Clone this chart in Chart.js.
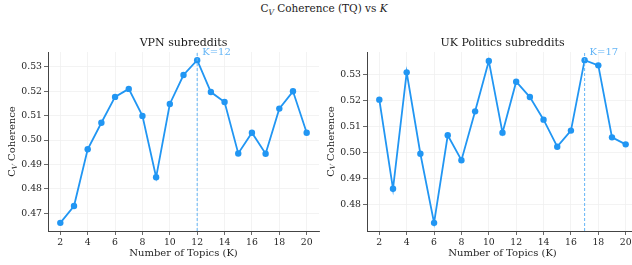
<!DOCTYPE html>
<html>
<head>
<meta charset="utf-8">
<script src="https://cdn.jsdelivr.net/npm/chart.js@4/dist/chart.umd.min.js"></script>
<style>
html,body{margin:0;padding:0;width:632px;height:265px;overflow:hidden;background:#fff;}
#sup{position:absolute;left:0;width:648px;top:2px;text-align:center;font-family:'DejaVu Serif';font-size:10.5px;color:#222;}
#sup sub{font-size:7.5px;font-style:italic;}
.wrap{position:absolute;top:0;height:265px;width:330px;}
</style>
</head>
<body>
<div id="sup">C<sub>V</sub> Coherence (TQ) vs <i>K</i></div>
<div class="wrap" style="left:0px"><canvas id="c1" width="330" height="265"></canvas></div>
<div class="wrap" style="left:316px"><canvas id="c2" width="330" height="265"></canvas></div>
<script>
const topics = [2,3,4,5,6,7,8,9,10,11,12,13,14,15,16,17,18,19,20];
const vpnCoherence = [0.4660,0.4729,0.4962,0.5071,0.5177,0.5210,0.5099,0.4847,0.5148,0.5267,0.5328,0.5197,0.5156,0.4945,0.5030,0.4944,0.5129,0.5200,0.5030];
const ukCoherence = [0.5205,0.4862,0.5310,0.4997,0.4731,0.5068,0.4972,0.5160,0.5354,0.5078,0.5274,0.5215,0.5128,0.5024,0.5086,0.5357,0.5337,0.5060,0.5033];
const xTickLabels = [2,4,6,8,10,12,14,16,18,20];
const vpnYTicks = [0.47,0.48,0.49,0.50,0.51,0.52,0.53];
const ukYTicks = [0.48,0.49,0.50,0.51,0.52,0.53];
const vpnBestK = 12;
const ukBestK = 17;
const vpnTitle = 'VPN subreddits';
const ukTitle = 'UK Politics subreddits';
const xLabel = 'Number of Topics (K)';

const FONT = 'DejaVu Serif';
const LINE = '#2196F3';
const VLINE = '#64B5F6';
const TXT = '#262626';

function makeChart(id, title, values, yTicks, bestK, yAxisWidth, yLabelX, padRight) {
  const xs = topics;
  const xmin = xs[0], xmax = xs[xs.length-1];
  const xm = (xmax - xmin) * 0.05;
  const vmin = Math.min(...values), vmax = Math.max(...values);
  const ym = (vmax - vmin) * 0.05;
  const deco = {
    id: 'deco',
    afterDraw(chart) {
      const ctx = chart.ctx, a = chart.chartArea;
      const xs = chart.scales.x;
      const px = xs.getPixelForValue(bestK);
      ctx.save();
      ctx.strokeStyle = VLINE; ctx.lineWidth = 1; ctx.setLineDash([3,2]);
      ctx.beginPath(); ctx.moveTo(px, a.bottom); ctx.lineTo(px, a.top); ctx.stroke();
      ctx.setLineDash([]);
      ctx.fillStyle = VLINE; ctx.font = '10px "' + FONT + '"';
      ctx.textBaseline = 'middle'; ctx.textAlign = 'left';
      ctx.fillText('K=' + bestK, px + 5, a.top + 0.5);
      ctx.fillStyle = '#1a1a1a'; ctx.font = '11px "' + FONT + '"';
      ctx.textAlign = 'center'; ctx.textBaseline = 'middle';
      ctx.fillText(title, (a.left + a.right) / 2, 43);
      ctx.translate(yLabelX, (a.top + a.bottom) / 2);
      ctx.rotate(-Math.PI / 2);
      ctx.fillStyle = TXT;
      const f1 = '10px "' + FONT + '"', f2 = 'italic 7px "' + FONT + '"';
      ctx.font = f1; const wC = ctx.measureText('C').width; const wR = ctx.measureText(' Coherence').width;
      ctx.font = f2; const wV = ctx.measureText('V').width;
      const total = wC + wV + wR;
      let x0 = -total / 2;
      ctx.textAlign = 'left'; ctx.textBaseline = 'middle';
      ctx.font = f1; ctx.fillText('C', x0, 0);
      ctx.font = f2; ctx.fillText('V', x0 + wC, 2.5);
      ctx.font = f1; ctx.fillText(' Coherence', x0 + wC + wV, 0);
      ctx.restore();
    }
  };
  return new Chart(document.getElementById(id), {
    type: 'line',
    data: {
      datasets: [{
        data: xs.map((k, i) => ({x: k, y: values[i]})),
        borderColor: LINE, backgroundColor: LINE,
        borderWidth: 1.8, pointRadius: 3.2, pointBorderWidth: 0,
        pointBackgroundColor: LINE, tension: 0
      }]
    },
    options: {
      responsive: false, animation: false,
      layout: {padding: {left: 0, right: padRight, top: 52, bottom: 0}},
      plugins: {legend: {display: false}, tooltip: {enabled: false}},
      scales: {
        x: {
          type: 'linear', min: xmin - xm, max: xmax + xm,
          afterBuildTicks: s => { s.ticks = xTickLabels.map(v => ({value: v})); },
          afterFit: s => { s.height = 34; },
          ticks: {font: {family: FONT, size: 9.3}, color: TXT, padding: 2, maxRotation: 0, autoSkip: false},
          grid: {color: '#f0f0f0', lineWidth: 0.8, tickColor: '#444', tickLength: 4, tickWidth: 0.8},
          border: {display: true, color: '#444', width: 1},
          title: {display: true, text: xLabel, font: {family: FONT, size: 10}, color: TXT, padding: {top: 0, bottom: 6}}
        },
        y: {
          type: 'linear', min: vmin - ym, max: vmax + ym,
          afterBuildTicks: s => { s.ticks = yTicks.map(v => ({value: v})); },
          afterFit: s => { s.width = yAxisWidth; },
          ticks: {font: {family: FONT, size: 9.3}, color: TXT, padding: 2, callback: v => v.toFixed(2), autoSkip: false},
          grid: {color: '#f0f0f0', lineWidth: 0.8, tickColor: '#444', tickLength: 4, tickWidth: 0.8},
          border: {display: true, color: '#444', width: 1}
        }
      }
    },
    plugins: [deco]
  });
}
makeChart('c1', vpnTitle, vpnCoherence, vpnYTicks, vpnBestK, 48, 12.7, 11);
makeChart('c2', ukTitle, ukCoherence, ukYTicks, ukBestK, 51, 15, 8);
</script>
</body>
</html>
